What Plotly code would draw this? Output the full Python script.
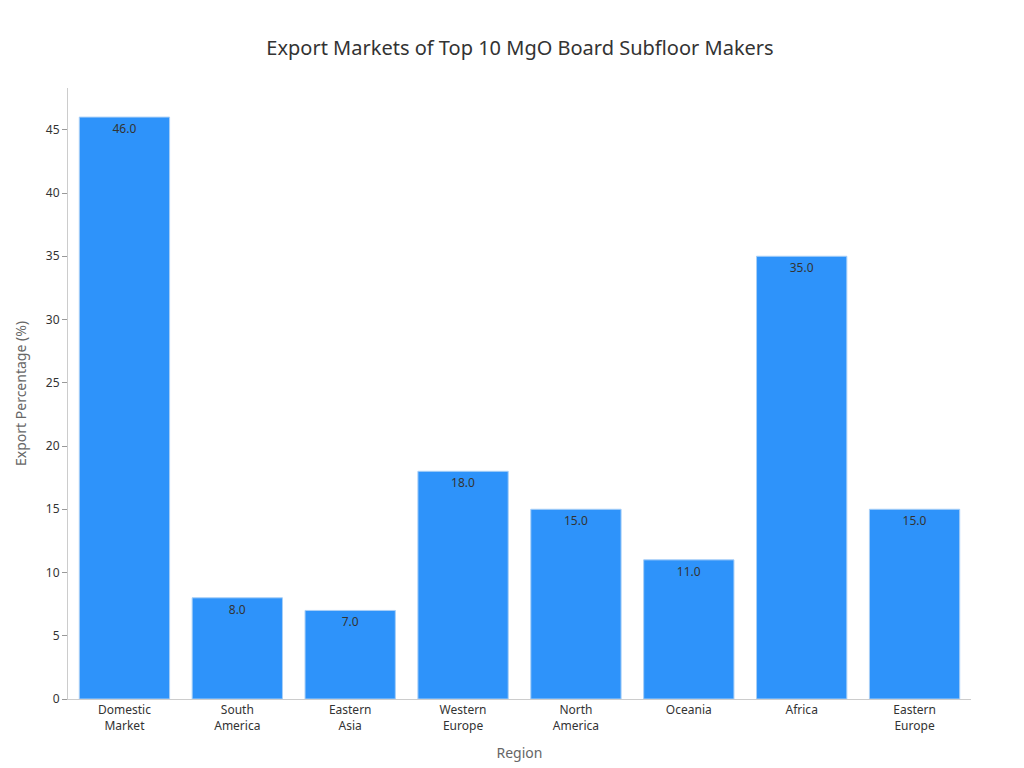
import plotly.graph_objects as go

categories = ["Domestic<br>Market", "South<br>America", "Eastern<br>Asia", "Western<br>Europe",
              "North<br>America", "Oceania", "Africa", "Eastern<br>Europe"]
values = [46.0, 8.0, 7.0, 18.0, 15.0, 11.0, 35.0, 15.0]

fig = go.Figure(go.Bar(
    x=categories, y=values,
    text=[f"{v:.1f}" for v in values], textposition="inside", insidetextanchor="end",
    textfont=dict(color="#333333", size=12),
    marker=dict(color="#2E93FA", line=dict(color="#A8CFF7", width=1)),
))
fig.update_layout(
    width=1024, height=768,
    margin=dict(l=60, r=61, t=80, b=77),
    paper_bgcolor="white", plot_bgcolor="white",
    font=dict(family="Noto Sans, DejaVu Sans, sans-serif", color="#333333"),
    title=dict(text="Export Markets of Top 10 MgO Board Subfloor Makers", x=0.5, y=0.957,
               font=dict(size=20, color="#333333")),
    bargap=0.2, showlegend=False,
)
fig.update_xaxes(title=dict(text="Region", font=dict(size=14, color="#666666")),
                 showline=True, linecolor="#cccccc", tickfont=dict(size=12), showgrid=False)
fig.update_yaxes(title=dict(text="Export Percentage (%)", font=dict(size=14, color="#666666")),
                 range=[0, 48.3], dtick=5, showline=True, linecolor="#cccccc",
                 ticks="outside", tickcolor="#999999", ticklen=5, showgrid=False,
                 tickfont=dict(size=12), zeroline=False)
fig.write_html("out.html")
